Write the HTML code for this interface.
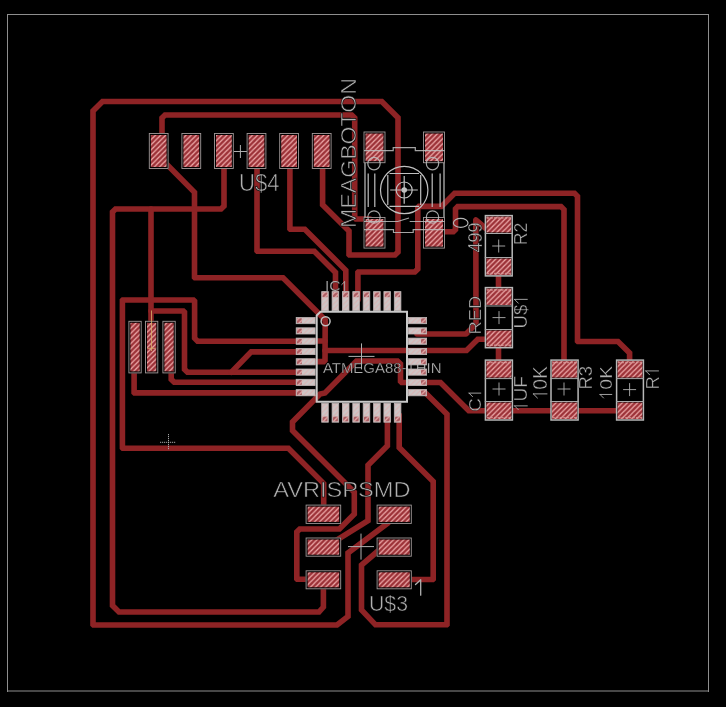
<!DOCTYPE html>
<html><head><meta charset="utf-8"><style>
html,body{margin:0;padding:0;background:#000;width:726px;height:707px;overflow:hidden}
svg{display:block}
text{font-family:"Liberation Sans",sans-serif;stroke:#000;paint-order:fill stroke}
svg{will-change:transform}
</style></head><body>
<svg width="726" height="707" viewBox="0 0 726 707">
<defs>
<pattern id="hatch" patternUnits="userSpaceOnUse" width="5.1" height="5.1">
<rect width="5.1" height="5.1" fill="#9c3238"/>
<path d="M-2.55 2.55L2.55 -2.55M0 5.1L5.1 0M2.55 7.65L7.65 2.55" stroke="#eeaaaa" stroke-width="1.25"/>
</pattern>
<pattern id="pinhatch" patternUnits="userSpaceOnUse" width="5.1" height="5.1">
<rect width="5.1" height="5.1" fill="#cdc6c6"/>
<path d="M-2.55 2.55L2.55 -2.55M0 5.1L5.1 0M2.55 7.65L7.65 2.55" stroke="#d9b4b4" stroke-width="1.1"/>
</pattern>
</defs>
<rect width="726" height="707" fill="#000"/>
<path d="M7 14.5H709M7.5 14V692M708.5 14V692M7 691H709" fill="none" stroke="#8e8e8e" stroke-width="1"/>
<path d="M322.60 160.00L322.60 204.80L349.00 231.00L349.00 254.60L349.40 255.00L395.00 255.00L398.00 252.00L398.00 117.70L381.80 101.50L102.50 101.50L93.00 111.00L93.00 624.60L93.40 625.00L337.00 625.00L348.00 616.50L348.00 553.00L388.00 523.00" fill="none" stroke="#8e2325" stroke-width="5.6" stroke-linejoin="miter" stroke-linecap="round"/>
<path d="M162.00 140.00L162.00 118.00L165.00 115.00L351.70 115.00L354.70 118.00L354.70 217.80L355.90 219.00L370.00 219.00" fill="none" stroke="#8e2325" stroke-width="5.6" stroke-linejoin="miter" stroke-linecap="round"/>
<path d="M158.50 156.00L194.50 192.30L194.50 277.40L194.90 277.80L283.00 277.80L325.20 320.00L325.01 360.40L323.80 361.60L305.00 361.60" fill="none" stroke="#8e2325" stroke-width="5.6" stroke-linejoin="miter" stroke-linecap="round"/>
<path d="M305.00 341.00L325.00 341.00" fill="none" stroke="#8e2325" stroke-width="5.6" stroke-linejoin="miter" stroke-linecap="round"/>
<path d="M325.00 350.50L466.50 350.50L477.80 339.20L495.00 339.20" fill="none" stroke="#8e2325" stroke-width="5.6" stroke-linejoin="miter" stroke-linecap="round"/>
<path d="M224.00 160.00L224.00 206.00L221.00 209.00L115.50 209.00L112.50 212.00L112.50 605.60L119.00 612.00L319.00 612.00L323.40 607.00L323.40 580.00" fill="none" stroke="#8e2325" stroke-width="5.6" stroke-linejoin="miter" stroke-linecap="round"/>
<path d="M151.00 209.00L151.00 330.00" fill="none" stroke="#8e2325" stroke-width="5.6" stroke-linejoin="miter" stroke-linecap="round"/>
<path d="M151.00 311.00L183.30 311.00L184.50 312.20L184.50 369.30L187.50 372.30L305.00 372.30" fill="none" stroke="#8e2325" stroke-width="5.6" stroke-linejoin="miter" stroke-linecap="round"/>
<path d="M231.40 372.30L251.20 351.90L305.00 351.90" fill="none" stroke="#8e2325" stroke-width="5.6" stroke-linejoin="miter" stroke-linecap="round"/>
<path d="M310.00 341.20L197.60 341.20L194.60 338.20L194.60 301.20L193.40 300.00L122.80 300.00L122.40 300.40L122.40 447.90L122.80 448.30L288.40 448.30L323.70 483.60L323.70 512.00" fill="none" stroke="#8e2325" stroke-width="5.6" stroke-linejoin="miter" stroke-linecap="round"/>
<path d="M171.20 360.00L171.20 379.30L174.20 382.30L305.00 382.30" fill="none" stroke="#8e2325" stroke-width="5.6" stroke-linejoin="miter" stroke-linecap="round"/>
<path d="M134.10 360.00L134.10 392.50L134.50 392.90L305.00 392.90" fill="none" stroke="#8e2325" stroke-width="5.6" stroke-linejoin="miter" stroke-linecap="round"/>
<path d="M257.00 160.00L257.00 250.90L257.40 251.30L314.30 251.30L335.50 272.50L335.50 300.00" fill="none" stroke="#8e2325" stroke-width="5.6" stroke-linejoin="miter" stroke-linecap="round"/>
<path d="M289.90 160.00L289.90 228.90L290.30 229.30L304.80 229.30L345.80 270.30L345.80 300.00" fill="none" stroke="#8e2325" stroke-width="5.6" stroke-linejoin="miter" stroke-linecap="round"/>
<path d="M357.90 300.00L357.90 272.40L358.30 272.00L414.80 272.00L417.80 269.00L417.80 207.60L419.00 206.40L441.50 206.40L454.60 193.30L574.50 193.30L577.50 196.30L577.50 341.10L577.90 341.50L618.00 341.50L629.60 353.00L629.60 368.00" fill="none" stroke="#8e2325" stroke-width="5.6" stroke-linejoin="miter" stroke-linecap="round"/>
<path d="M440.00 231.70L453.30 231.70L455.50 229.50L455.50 208.80L457.70 206.60L561.00 206.60L564.00 209.60L564.00 368.00" fill="none" stroke="#8e2325" stroke-width="5.6" stroke-linejoin="miter" stroke-linecap="round"/>
<path d="M486.50 229.00L475.80 220.00L476.00 324.00L466.00 334.00L417.00 334.00" fill="none" stroke="#8e2325" stroke-width="5.6" stroke-linejoin="round" stroke-linecap="round"/>
<path d="M498.50 270.00L498.50 292.00" fill="none" stroke="#8e2325" stroke-width="5.6" stroke-linejoin="miter" stroke-linecap="round"/>
<path d="M498.50 340.00L498.50 365.00" fill="none" stroke="#8e2325" stroke-width="5.6" stroke-linejoin="miter" stroke-linecap="round"/>
<path d="M315.00 579.20L297.20 579.20L296.80 578.80L296.80 532.00L299.80 529.00L339.40 529.00L354.30 514.00L354.30 492.20L292.50 430.50L292.50 422.00L320.00 394.00L325.00 393.00L356.50 361.00L397.50 361.00L400.50 364.00L400.50 381.30L401.70 382.50L440.50 382.50L468.80 410.80L630.00 410.80" fill="none" stroke="#8e2325" stroke-width="5.6" stroke-linejoin="miter" stroke-linecap="round"/>
<path d="M387.40 415.00L387.40 445.80L368.00 465.20L368.00 520.60L323.00 548.60" fill="none" stroke="#8e2325" stroke-width="5.6" stroke-linejoin="miter" stroke-linecap="round"/>
<path d="M385.00 545.00L361.50 565.00L361.50 610.00L375.50 624.80L446.70 624.80L447.00 624.50L447.00 414.20L424.80 392.20L415.00 392.20" fill="none" stroke="#8e2325" stroke-width="5.6" stroke-linejoin="miter" stroke-linecap="round"/>
<path d="M399.20 415.00L399.20 447.50L433.20 481.50L433.20 579.10L432.80 579.50L400.00 579.50" fill="none" stroke="#8e2325" stroke-width="5.6" stroke-linejoin="miter" stroke-linecap="round"/>
<rect x="148.8" y="133.0" width="19.8" height="36.0" fill="#000"/>
<rect x="150.8" y="135.0" width="15.8" height="32.0" fill="url(#hatch)"/>
<rect x="149.3" y="133.5" width="18.8" height="35.0" fill="none" stroke="#a09898" stroke-width="0.9"/>
<rect x="181.4" y="133.0" width="19.8" height="36.0" fill="#000"/>
<rect x="183.4" y="135.0" width="15.8" height="32.0" fill="url(#hatch)"/>
<rect x="181.9" y="133.5" width="18.8" height="35.0" fill="none" stroke="#a09898" stroke-width="0.9"/>
<rect x="214.0" y="133.0" width="19.8" height="36.0" fill="#000"/>
<rect x="216.0" y="135.0" width="15.8" height="32.0" fill="url(#hatch)"/>
<rect x="214.5" y="133.5" width="18.8" height="35.0" fill="none" stroke="#a09898" stroke-width="0.9"/>
<rect x="246.6" y="133.0" width="19.8" height="36.0" fill="#000"/>
<rect x="248.6" y="135.0" width="15.8" height="32.0" fill="url(#hatch)"/>
<rect x="247.1" y="133.5" width="18.8" height="35.0" fill="none" stroke="#a09898" stroke-width="0.9"/>
<rect x="279.2" y="133.0" width="19.8" height="36.0" fill="#000"/>
<rect x="281.2" y="135.0" width="15.8" height="32.0" fill="url(#hatch)"/>
<rect x="279.7" y="133.5" width="18.8" height="35.0" fill="none" stroke="#a09898" stroke-width="0.9"/>
<rect x="311.8" y="133.0" width="19.8" height="36.0" fill="#000"/>
<rect x="313.8" y="135.0" width="15.8" height="32.0" fill="url(#hatch)"/>
<rect x="312.3" y="133.5" width="18.8" height="35.0" fill="none" stroke="#a09898" stroke-width="0.9"/>
<path d="M233.9 151.5H246.9M240.4 145.0V158.0" stroke="#b0b0b0" stroke-width="1" fill="none"/>
<text x="239.0" y="191.0" font-size="23.19" textLength="40.5" lengthAdjust="spacingAndGlyphs" fill="#b0b0b0" stroke-width="0.59">U$4</text>
<rect x="128.4" y="320.8" width="13.3" height="52.6" fill="#000"/>
<rect x="130.4" y="322.8" width="9.3" height="48.6" fill="url(#hatch)"/>
<rect x="128.9" y="321.3" width="12.3" height="51.6" fill="none" stroke="#a09898" stroke-width="0.9"/>
<rect x="145.0" y="320.8" width="13.3" height="52.6" fill="#000"/>
<rect x="147.0" y="322.8" width="9.3" height="48.6" fill="url(#hatch)"/>
<rect x="145.5" y="321.3" width="12.3" height="51.6" fill="none" stroke="#a09898" stroke-width="0.9"/>
<rect x="162.4" y="320.8" width="13.3" height="52.6" fill="#000"/>
<rect x="164.4" y="322.8" width="9.3" height="48.6" fill="url(#hatch)"/>
<rect x="162.9" y="321.3" width="12.3" height="51.6" fill="none" stroke="#a09898" stroke-width="0.9"/>
<path d="M151.5 310.5V351M147.5 348.3H155" stroke="#dcae6a" stroke-width="0.9" opacity="0.9"/>
<path d="M160 442.3H176M168.5 434V450" stroke="#b8b8b8" stroke-width="0.9" stroke-dasharray="1.2 0.8"/>
<rect x="363.5" y="131.5" width="22.0" height="31.7" fill="#000"/>
<rect x="365.5" y="133.5" width="18.0" height="27.7" fill="url(#hatch)"/>
<rect x="364.0" y="132.0" width="21.0" height="30.7" fill="none" stroke="#a09898" stroke-width="0.9"/>
<rect x="423.0" y="131.5" width="22.0" height="31.7" fill="#000"/>
<rect x="425.0" y="133.5" width="18.0" height="27.7" fill="url(#hatch)"/>
<rect x="423.5" y="132.0" width="21.0" height="30.7" fill="none" stroke="#a09898" stroke-width="0.9"/>
<rect x="363.5" y="217.0" width="22.0" height="31.6" fill="#000"/>
<rect x="365.5" y="219.0" width="18.0" height="27.6" fill="url(#hatch)"/>
<rect x="364.0" y="217.5" width="21.0" height="30.6" fill="none" stroke="#a09898" stroke-width="0.9"/>
<rect x="423.0" y="217.0" width="22.0" height="31.6" fill="#000"/>
<rect x="425.0" y="219.0" width="18.0" height="27.6" fill="url(#hatch)"/>
<rect x="423.5" y="217.5" width="21.0" height="30.6" fill="none" stroke="#a09898" stroke-width="0.9"/>
<g fill="none" stroke="#c0c0c0" stroke-width="1.2">
<path d="M365 163V217M444 163V217"/>
<path d="M364 150.7H393.2V147.7H415.3V150.7H444.5" opacity="0.85"/>
<path d="M364 229.7H393.5V232.5H413.2V229.7H444.5" opacity="0.85"/>
<path d="M364 221.5H397.7L409 218M409.7 221.5H444.5" opacity="0.85"/>
<circle cx="404.2" cy="190" r="23.7"/>
<circle cx="404.2" cy="190" r="8"/>
<circle cx="404.2" cy="190" r="2.2" fill="#c0c0c0"/>
<path d="M390.2 190H417.8M404.2 176V203.8"/>
<circle cx="374" cy="163.6" r="6.2" opacity="0.85"/><circle cx="432.5" cy="163.6" r="6.2" opacity="0.85"/>
<circle cx="374" cy="217" r="6.2" opacity="0.85"/><circle cx="432.5" cy="217" r="6.2" opacity="0.85"/>
<path d="M368.2 173.5V207M374.8 173.5V207M432.2 173.5V207M440.1 173.5V207"/>
<path d="M387.8 175V205M420.7 175V205M389.5 173.5H419M389.5 206.4H419"/>
</g>
<text transform="translate(355.5,228.0) rotate(-90)" x="0" y="0" font-size="22.46" textLength="150.0" lengthAdjust="spacingAndGlyphs" fill="#b0b0b0" stroke-width="0.56">MEAGBOTON</text>
<text x="322.9" y="373.0" font-size="15.51" textLength="118.6" lengthAdjust="spacingAndGlyphs" fill="#b0b0b0" stroke-width="0.25">ATMEGA88-THIN</text>
<rect x="321.7" y="291.6" width="6.6" height="19.0" fill="url(#pinhatch)" stroke="#bdb5b5" stroke-width="0.8"/>
<rect x="322.5" y="292.4" width="5.0" height="4.8" fill="url(#hatch)" opacity="0.7"/>
<rect x="321.7" y="403.2" width="6.6" height="19.0" fill="url(#pinhatch)" stroke="#bdb5b5" stroke-width="0.8"/>
<rect x="322.5" y="416.6" width="5.0" height="4.8" fill="url(#hatch)" opacity="0.7"/>
<rect x="296.2" y="317.5" width="18.9" height="6.2" fill="url(#pinhatch)" stroke="#bdb5b5" stroke-width="0.8"/>
<rect x="297.0" y="318.3" width="4.8" height="4.6" fill="url(#hatch)" opacity="0.7"/>
<rect x="408.2" y="317.5" width="18.4" height="6.2" fill="url(#pinhatch)" stroke="#bdb5b5" stroke-width="0.8"/>
<rect x="421.0" y="318.3" width="4.8" height="4.6" fill="url(#hatch)" opacity="0.7"/>
<rect x="332.1" y="291.6" width="6.6" height="19.0" fill="url(#pinhatch)" stroke="#bdb5b5" stroke-width="0.8"/>
<rect x="332.9" y="292.4" width="5.0" height="4.8" fill="url(#hatch)" opacity="0.7"/>
<rect x="332.1" y="403.2" width="6.6" height="19.0" fill="url(#pinhatch)" stroke="#bdb5b5" stroke-width="0.8"/>
<rect x="332.9" y="416.6" width="5.0" height="4.8" fill="url(#hatch)" opacity="0.7"/>
<rect x="296.2" y="327.8" width="18.9" height="6.2" fill="url(#pinhatch)" stroke="#bdb5b5" stroke-width="0.8"/>
<rect x="297.0" y="328.6" width="4.8" height="4.6" fill="url(#hatch)" opacity="0.7"/>
<rect x="408.2" y="327.8" width="18.4" height="6.2" fill="url(#pinhatch)" stroke="#bdb5b5" stroke-width="0.8"/>
<rect x="421.0" y="328.6" width="4.8" height="4.6" fill="url(#hatch)" opacity="0.7"/>
<rect x="342.4" y="291.6" width="6.6" height="19.0" fill="url(#pinhatch)" stroke="#bdb5b5" stroke-width="0.8"/>
<rect x="343.2" y="292.4" width="5.0" height="4.8" fill="url(#hatch)" opacity="0.7"/>
<rect x="342.4" y="403.2" width="6.6" height="19.0" fill="url(#pinhatch)" stroke="#bdb5b5" stroke-width="0.8"/>
<rect x="343.2" y="416.6" width="5.0" height="4.8" fill="url(#hatch)" opacity="0.7"/>
<rect x="296.2" y="338.1" width="18.9" height="6.2" fill="url(#pinhatch)" stroke="#bdb5b5" stroke-width="0.8"/>
<rect x="297.0" y="338.9" width="4.8" height="4.6" fill="url(#hatch)" opacity="0.7"/>
<rect x="408.2" y="338.1" width="18.4" height="6.2" fill="url(#pinhatch)" stroke="#bdb5b5" stroke-width="0.8"/>
<rect x="421.0" y="338.9" width="4.8" height="4.6" fill="url(#hatch)" opacity="0.7"/>
<rect x="352.8" y="291.6" width="6.6" height="19.0" fill="url(#pinhatch)" stroke="#bdb5b5" stroke-width="0.8"/>
<rect x="353.6" y="292.4" width="5.0" height="4.8" fill="url(#hatch)" opacity="0.7"/>
<rect x="352.8" y="403.2" width="6.6" height="19.0" fill="url(#pinhatch)" stroke="#bdb5b5" stroke-width="0.8"/>
<rect x="353.6" y="416.6" width="5.0" height="4.8" fill="url(#hatch)" opacity="0.7"/>
<rect x="296.2" y="348.4" width="18.9" height="6.2" fill="url(#pinhatch)" stroke="#bdb5b5" stroke-width="0.8"/>
<rect x="297.0" y="349.2" width="4.8" height="4.6" fill="url(#hatch)" opacity="0.7"/>
<rect x="408.2" y="348.4" width="18.4" height="6.2" fill="url(#pinhatch)" stroke="#bdb5b5" stroke-width="0.8"/>
<rect x="421.0" y="349.2" width="4.8" height="4.6" fill="url(#hatch)" opacity="0.7"/>
<rect x="363.2" y="291.6" width="6.6" height="19.0" fill="url(#pinhatch)" stroke="#bdb5b5" stroke-width="0.8"/>
<rect x="364.0" y="292.4" width="5.0" height="4.8" fill="url(#hatch)" opacity="0.7"/>
<rect x="363.2" y="403.2" width="6.6" height="19.0" fill="url(#pinhatch)" stroke="#bdb5b5" stroke-width="0.8"/>
<rect x="364.0" y="416.6" width="5.0" height="4.8" fill="url(#hatch)" opacity="0.7"/>
<rect x="296.2" y="358.7" width="18.9" height="6.2" fill="url(#pinhatch)" stroke="#bdb5b5" stroke-width="0.8"/>
<rect x="297.0" y="359.5" width="4.8" height="4.6" fill="url(#hatch)" opacity="0.7"/>
<rect x="408.2" y="358.7" width="18.4" height="6.2" fill="url(#pinhatch)" stroke="#bdb5b5" stroke-width="0.8"/>
<rect x="421.0" y="359.5" width="4.8" height="4.6" fill="url(#hatch)" opacity="0.7"/>
<rect x="373.6" y="291.6" width="6.6" height="19.0" fill="url(#pinhatch)" stroke="#bdb5b5" stroke-width="0.8"/>
<rect x="374.4" y="292.4" width="5.0" height="4.8" fill="url(#hatch)" opacity="0.7"/>
<rect x="373.6" y="403.2" width="6.6" height="19.0" fill="url(#pinhatch)" stroke="#bdb5b5" stroke-width="0.8"/>
<rect x="374.4" y="416.6" width="5.0" height="4.8" fill="url(#hatch)" opacity="0.7"/>
<rect x="296.2" y="369.0" width="18.9" height="6.2" fill="url(#pinhatch)" stroke="#bdb5b5" stroke-width="0.8"/>
<rect x="297.0" y="369.8" width="4.8" height="4.6" fill="url(#hatch)" opacity="0.7"/>
<rect x="408.2" y="369.0" width="18.4" height="6.2" fill="url(#pinhatch)" stroke="#bdb5b5" stroke-width="0.8"/>
<rect x="421.0" y="369.8" width="4.8" height="4.6" fill="url(#hatch)" opacity="0.7"/>
<rect x="383.9" y="291.6" width="6.6" height="19.0" fill="url(#pinhatch)" stroke="#bdb5b5" stroke-width="0.8"/>
<rect x="384.7" y="292.4" width="5.0" height="4.8" fill="url(#hatch)" opacity="0.7"/>
<rect x="383.9" y="403.2" width="6.6" height="19.0" fill="url(#pinhatch)" stroke="#bdb5b5" stroke-width="0.8"/>
<rect x="384.7" y="416.6" width="5.0" height="4.8" fill="url(#hatch)" opacity="0.7"/>
<rect x="296.2" y="379.3" width="18.9" height="6.2" fill="url(#pinhatch)" stroke="#bdb5b5" stroke-width="0.8"/>
<rect x="297.0" y="380.1" width="4.8" height="4.6" fill="url(#hatch)" opacity="0.7"/>
<rect x="408.2" y="379.3" width="18.4" height="6.2" fill="url(#pinhatch)" stroke="#bdb5b5" stroke-width="0.8"/>
<rect x="421.0" y="380.1" width="4.8" height="4.6" fill="url(#hatch)" opacity="0.7"/>
<rect x="394.3" y="291.6" width="6.6" height="19.0" fill="url(#pinhatch)" stroke="#bdb5b5" stroke-width="0.8"/>
<rect x="395.1" y="292.4" width="5.0" height="4.8" fill="url(#hatch)" opacity="0.7"/>
<rect x="394.3" y="403.2" width="6.6" height="19.0" fill="url(#pinhatch)" stroke="#bdb5b5" stroke-width="0.8"/>
<rect x="395.1" y="416.6" width="5.0" height="4.8" fill="url(#hatch)" opacity="0.7"/>
<rect x="296.2" y="389.6" width="18.9" height="6.2" fill="url(#pinhatch)" stroke="#bdb5b5" stroke-width="0.8"/>
<rect x="297.0" y="390.4" width="4.8" height="4.6" fill="url(#hatch)" opacity="0.7"/>
<rect x="408.2" y="389.6" width="18.4" height="6.2" fill="url(#pinhatch)" stroke="#bdb5b5" stroke-width="0.8"/>
<rect x="421.0" y="390.4" width="4.8" height="4.6" fill="url(#hatch)" opacity="0.7"/>
<path d="M320.5 311.7H407V401.7H316.7V315.5Z" fill="none" stroke="#c8c8c8" stroke-width="2"/>
<circle cx="325.6" cy="321.2" r="4.5" fill="none" stroke="#c0c0c0" stroke-width="1.5"/>
<path d="M348.5 356.4H374.5M361.5 343.4V369.4" stroke="#b0b0b0" stroke-width="1" fill="none"/>
<g transform="translate(325.00,291.20)"><text x="0.00" y="0" font-size="13.77" textLength="15.62" lengthAdjust="spacingAndGlyphs" fill="#b0b0b0" stroke-width="0.17">IC</text><path d="M19.61 -9.50V0M19.61 -9.50L16.76 -6.65" fill="none" stroke="#b0b0b0" stroke-width="0.90" stroke-linecap="round"/></g>
<rect x="305.6" y="504.6" width="35.6" height="19.3" fill="#000"/>
<rect x="307.6" y="506.6" width="31.6" height="15.3" fill="url(#hatch)"/>
<rect x="306.1" y="505.1" width="34.6" height="18.3" fill="none" stroke="#a09898" stroke-width="0.9"/>
<rect x="376.6" y="504.6" width="35.2" height="19.3" fill="#000"/>
<rect x="378.6" y="506.6" width="31.2" height="15.3" fill="url(#hatch)"/>
<rect x="377.1" y="505.1" width="34.2" height="18.3" fill="none" stroke="#a09898" stroke-width="0.9"/>
<rect x="305.6" y="537.5" width="35.6" height="19.2" fill="#000"/>
<rect x="307.6" y="539.5" width="31.6" height="15.2" fill="url(#hatch)"/>
<rect x="306.1" y="538.0" width="34.6" height="18.2" fill="none" stroke="#a09898" stroke-width="0.9"/>
<rect x="376.6" y="537.5" width="35.2" height="19.2" fill="#000"/>
<rect x="378.6" y="539.5" width="31.2" height="15.2" fill="url(#hatch)"/>
<rect x="377.1" y="538.0" width="34.2" height="18.2" fill="none" stroke="#a09898" stroke-width="0.9"/>
<rect x="305.6" y="570.3" width="35.6" height="19.0" fill="#000"/>
<rect x="307.6" y="572.3" width="31.6" height="15.0" fill="url(#hatch)"/>
<rect x="306.1" y="570.8" width="34.6" height="18.0" fill="none" stroke="#a09898" stroke-width="0.9"/>
<rect x="376.6" y="570.3" width="35.2" height="19.0" fill="#000"/>
<rect x="378.6" y="572.3" width="31.2" height="15.0" fill="url(#hatch)"/>
<rect x="377.1" y="570.8" width="34.2" height="18.0" fill="none" stroke="#a09898" stroke-width="0.9"/>
<path d="M348.0 546.6H374.0M361.0 533.6V559.6" stroke="#b0b0b0" stroke-width="1" fill="none"/>
<text x="273.2" y="496.7" font-size="22.32" textLength="137.3" lengthAdjust="spacingAndGlyphs" fill="#b0b0b0" stroke-width="0.55">AVRISPSMD</text>
<text x="369.0" y="611.0" font-size="21.74" textLength="39.0" lengthAdjust="spacingAndGlyphs" fill="#b0b0b0" stroke-width="0.53">U$3</text>
<path d="M420.7 579.8V595.2M420.7 579.8L415.5 584.6" fill="none" stroke="#b0b0b0" stroke-width="1.3" stroke-linecap="round"/>
<rect x="485.4" y="215.6" width="26.8" height="60.3" fill="#000" stroke="#b8b8b8" stroke-width="1.5"/>
<rect x="486.4" y="216.6" width="24.8" height="15.9" fill="url(#hatch)"/>
<rect x="486.4" y="258.5" width="24.8" height="16.4" fill="url(#hatch)"/>
<path d="M486.8 218.0H510.8M486.8 273.5H510.8" stroke="#d89898" stroke-width="1.4" stroke-dasharray="2.4 1.2" opacity="0.8"/>
<path d="M484.8 233.5H512.8M484.8 257.5H512.8" stroke="#a8a8a8" stroke-width="1"/>
<path d="M492.2 246.0H505.2M498.7 239.5V252.5" stroke="#b0b0b0" stroke-width="0.9" fill="none"/>
<rect x="485.4" y="287.6" width="27.0" height="60.1" fill="#000" stroke="#b8b8b8" stroke-width="1.5"/>
<rect x="486.4" y="288.6" width="25.0" height="16.4" fill="url(#hatch)"/>
<rect x="486.4" y="330.5" width="25.0" height="16.2" fill="url(#hatch)"/>
<path d="M486.8 290.0H511.0M486.8 345.3H511.0" stroke="#d89898" stroke-width="1.4" stroke-dasharray="2.4 1.2" opacity="0.8"/>
<path d="M484.8 306.0H513.0M484.8 329.5H513.0" stroke="#a8a8a8" stroke-width="1"/>
<path d="M492.5 317.6H505.5M499.0 311.1V324.1" stroke="#b0b0b0" stroke-width="0.9" fill="none"/>
<rect x="485.4" y="360.1" width="27.0" height="59.9" fill="#000" stroke="#b8b8b8" stroke-width="1.5"/>
<rect x="486.4" y="361.1" width="25.0" height="16.5" fill="url(#hatch)"/>
<rect x="486.4" y="402.5" width="25.0" height="16.5" fill="url(#hatch)"/>
<path d="M486.8 362.5H511.0M486.8 417.6H511.0" stroke="#d89898" stroke-width="1.4" stroke-dasharray="2.4 1.2" opacity="0.8"/>
<path d="M484.8 378.6H513.0M484.8 401.5H513.0" stroke="#a8a8a8" stroke-width="1"/>
<path d="M492.5 389.0H505.5M499.0 382.5V395.5" stroke="#b0b0b0" stroke-width="0.9" fill="none"/>
<rect x="551.0" y="360.1" width="27.1" height="59.9" fill="#000" stroke="#b8b8b8" stroke-width="1.5"/>
<rect x="552.0" y="361.1" width="25.1" height="16.5" fill="url(#hatch)"/>
<rect x="552.0" y="402.5" width="25.1" height="16.5" fill="url(#hatch)"/>
<path d="M552.4 362.5H576.7M552.4 417.6H576.7" stroke="#d89898" stroke-width="1.4" stroke-dasharray="2.4 1.2" opacity="0.8"/>
<path d="M550.4 378.6H578.7M550.4 401.5H578.7" stroke="#a8a8a8" stroke-width="1"/>
<path d="M557.5 389.0H570.5M564.0 382.5V395.5" stroke="#b0b0b0" stroke-width="0.9" fill="none"/>
<rect x="616.6" y="360.1" width="26.8" height="59.9" fill="#000" stroke="#b8b8b8" stroke-width="1.5"/>
<rect x="617.6" y="361.1" width="24.8" height="16.5" fill="url(#hatch)"/>
<rect x="617.6" y="402.5" width="24.8" height="16.5" fill="url(#hatch)"/>
<path d="M618.0 362.5H642.0M618.0 417.6H642.0" stroke="#d89898" stroke-width="1.4" stroke-dasharray="2.4 1.2" opacity="0.8"/>
<path d="M616.0 378.6H644.0M616.0 401.5H644.0" stroke="#a8a8a8" stroke-width="1"/>
<path d="M623.1 389.6H636.1M629.6 383.1V396.1" stroke="#b0b0b0" stroke-width="0.9" fill="none"/>
<text transform="translate(481.6,252.5) rotate(-90)" x="0" y="0" font-size="19.71" textLength="30.0" lengthAdjust="spacingAndGlyphs" fill="#b0b0b0" stroke-width="0.44">499</text>
<ellipse cx="460.7" cy="222.9" rx="7.3" ry="4.5" fill="none" stroke="#b4b4b4" stroke-width="1.2"/>
<text transform="translate(527.3,245.2) rotate(-90)" x="0" y="0" font-size="18.55" textLength="22.7" lengthAdjust="spacingAndGlyphs" fill="#b0b0b0" stroke-width="0.38">R2</text>
<text transform="translate(480.8,334.5) rotate(-90)" x="0" y="0" font-size="17.10" textLength="38.7" lengthAdjust="spacingAndGlyphs" fill="#b0b0b0" stroke-width="0.32">RED</text>
<g transform="translate(527.30,328.50) rotate(-90)"><text x="0.00" y="0" font-size="18.55" textLength="23.75" lengthAdjust="spacingAndGlyphs" fill="#b0b0b0" stroke-width="0.38">U$</text><path d="M29.13 -12.80V0M29.13 -12.80L25.29 -8.96" fill="none" stroke="#b0b0b0" stroke-width="0.90" stroke-linecap="round"/></g>
<g transform="translate(480.80,411.70) rotate(-90)"><text x="0.00" y="0" font-size="17.10" textLength="13.63" lengthAdjust="spacingAndGlyphs" fill="#b0b0b0" stroke-width="0.32">C</text><path d="M18.58 -11.80V0M18.58 -11.80L15.04 -8.26" fill="none" stroke="#b0b0b0" stroke-width="0.90" stroke-linecap="round"/></g>
<g transform="translate(527.30,409.70) rotate(-90)"><path d="M3.84 -12.80V0M3.84 -12.80L0.00 -8.96" fill="none" stroke="#b0b0b0" stroke-width="0.90" stroke-linecap="round"/><text x="8.19" y="0" font-size="18.55" textLength="25.51" lengthAdjust="spacingAndGlyphs" fill="#b0b0b0" stroke-width="0.38">UF</text></g>
<g transform="translate(547.00,398.00) rotate(-90)"><path d="M4.11 -13.70V0M4.11 -13.70L0.00 -9.59" fill="none" stroke="#b0b0b0" stroke-width="0.93" stroke-linecap="round"/><text x="8.29" y="0" font-size="19.86" textLength="23.71" lengthAdjust="spacingAndGlyphs" fill="#b0b0b0" stroke-width="0.44">0K</text></g>
<text transform="translate(592.3,389.6) rotate(-90)" x="0" y="0" font-size="18.55" textLength="23.8" lengthAdjust="spacingAndGlyphs" fill="#b0b0b0" stroke-width="0.38">R3</text>
<g transform="translate(611.80,398.00) rotate(-90)"><path d="M3.54 -11.80V0M3.54 -11.80L0.00 -8.26" fill="none" stroke="#b0b0b0" stroke-width="0.90" stroke-linecap="round"/><text x="8.34" y="0" font-size="17.10" textLength="23.86" lengthAdjust="spacingAndGlyphs" fill="#b0b0b0" stroke-width="0.32">0K</text></g>
<g transform="translate(658.50,389.60) rotate(-90)"><text x="0.00" y="0" font-size="18.55" textLength="13.31" lengthAdjust="spacingAndGlyphs" fill="#b0b0b0" stroke-width="0.38">R</text><path d="M18.69 -12.80V0M18.69 -12.80L14.85 -8.96" fill="none" stroke="#b0b0b0" stroke-width="0.90" stroke-linecap="round"/></g>
</svg>
</body></html>
